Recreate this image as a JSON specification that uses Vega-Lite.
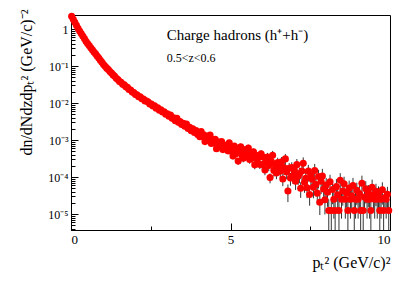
{
  "$schema": "https://vega.github.io/schema/vega-lite/v6.json",
  "width": 319,
  "height": 215,
  "autosize": "none",
  "padding": {"left": 71, "top": 15, "right": 9, "bottom": 52},
  "background": "white",
  "config": {
    "view": {"stroke": "black", "strokeWidth": 1},
    "axis": {
      "grid": false,
      "domainColor": "black",
      "tickColor": "black",
      "labelColor": "black",
      "titleColor": "black",
      "labelFont": "Liberation Serif",
      "titleFont": "Liberation Serif",
      "titleFontWeight": "normal"
    }
  },
  "datasets": {
    "pts": [
      {"x":0.02,"y":2.22},{"x":0.07,"y":1.84},{"x":0.12,"y":1.52},{"x":0.17,"y":1.26},{"x":0.22,"y":1.04},
      {"x":0.27,"y":0.881},{"x":0.32,"y":0.753},{"x":0.37,"y":0.643},{"x":0.42,"y":0.552},{"x":0.47,"y":0.468},
      {"x":0.52,"y":0.405},{"x":0.57,"y":0.357},{"x":0.62,"y":0.312},{"x":0.67,"y":0.276},{"x":0.72,"y":0.240},
      {"x":0.77,"y":0.213},{"x":0.82,"y":0.185},{"x":0.87,"y":0.165},{"x":0.92,"y":0.143},{"x":0.97,"y":0.127},
      {"x":1.02,"y":0.110},{"x":1.07,"y":0.0985},{"x":1.12,"y":0.0876},{"x":1.17,"y":0.0800},{"x":1.22,"y":0.0710},
      {"x":1.27,"y":0.0650},{"x":1.32,"y":0.0575},{"x":1.37,"y":0.0530},{"x":1.42,"y":0.0465},{"x":1.47,"y":0.0430},
      {"x":1.52,"y":0.0380},{"x":1.57,"y":0.0362},{"x":1.62,"y":0.0322},{"x":1.67,"y":0.0309},{"x":1.72,"y":0.0273},
      {"x":1.77,"y":0.0264},{"x":1.82,"y":0.0232},{"x":1.87,"y":0.0225},{"x":1.92,"y":0.0197},{"x":1.97,"y":0.0192},
      {"x":2.02,"y":0.0170},{"x":2.07,"y":0.0168},{"x":2.12,"y":0.0148},{"x":2.17,"y":0.0147},{"x":2.22,"y":0.0130},
      {"x":2.27,"y":0.0129},{"x":2.32,"y":0.0114},{"x":2.37,"y":0.0113},{"x":2.42,"y":0.0106},{"x":2.47,"y":0.00935},
      {"x":2.52,"y":0.00945},{"x":2.57,"y":0.00830},{"x":2.62,"y":0.00840},{"x":2.67,"y":0.00725},{"x":2.72,"y":0.00745},
      {"x":2.77,"y":0.00640},{"x":2.82,"y":0.00655},{"x":2.87,"y":0.00570},{"x":2.92,"y":0.00580},{"x":2.97,"y":0.00500},
      {"x":3.02,"y":0.00510},{"x":3.07,"y":0.00440},{"x":3.12,"y":0.00470},{"x":3.17,"y":0.00385},{"x":3.22,"y":0.00400},
      {"x":3.27,"y":0.00330},{"x":3.32,"y":0.00385},{"x":3.37,"y":0.00300},{"x":3.42,"y":0.00315},{"x":3.47,"y":0.00262},
      {"x":3.52,"y":0.00285},{"x":3.57,"y":0.00236},{"x":3.62,"y":0.00270},{"x":3.67,"y":0.00205},{"x":3.72,"y":0.00221},
      {"x":3.77,"y":0.00178},{"x":3.82,"y":0.00200},{"x":3.87,"y":0.00160},{"x":3.92,"y":0.00180},{"x":3.97,"y":0.00141},
      {"x":4.00,"y":1.56e-3,"lo":1.41e-3,"hi":1.72e-3},
      {"x":4.04,"y":1.22e-3,"lo":1.10e-3,"hi":1.34e-3},
      {"x":4.08,"y":1.69e-3,"lo":1.52e-3,"hi":1.86e-3},
      {"x":4.12,"y":1.25e-3,"lo":1.13e-3,"hi":1.38e-3},
      {"x":4.16,"y":1.39e-3,"lo":1.24e-3,"hi":1.54e-3},
      {"x":4.20,"y":9.06e-4,"lo":8.06e-4,"hi":1.006e-3},
      {"x":4.24,"y":1.16e-3,"lo":1.03e-3,"hi":1.29e-3},
      {"x":4.28,"y":1.29e-3,"lo":1.15e-3,"hi":1.43e-3},
      {"x":4.32,"y":9.57e-4,"lo":8.42e-4,"hi":1.07e-3},
      {"x":4.36,"y":1.37e-3,"lo":1.21e-3,"hi":1.53e-3},
      {"x":4.40,"y":8.02e-4,"lo":7.06e-4,"hi":8.98e-4},
      {"x":4.44,"y":9.93e-4,"lo":8.74e-4,"hi":1.11e-3},
      {"x":4.48,"y":8.37e-4,"lo":7.28e-4,"hi":9.46e-4},
      {"x":4.52,"y":1.04e-3,"lo":9.05e-4,"hi":1.18e-3},
      {"x":4.56,"y":5.82e-4,"lo":5.06e-4,"hi":6.58e-4},
      {"x":4.60,"y":8.89e-4,"lo":7.73e-4,"hi":1.0e-3},
      {"x":4.64,"y":7.57e-4,"lo":6.51e-4,"hi":8.63e-4},
      {"x":4.68,"y":6.55e-4,"lo":5.63e-4,"hi":7.47e-4},
      {"x":4.72,"y":9.16e-4,"lo":7.88e-4,"hi":1.04e-3},
      {"x":4.76,"y":5.5e-4,"lo":4.73e-4,"hi":6.27e-4},
      {"x":4.80,"y":7.28e-4,"lo":6.19e-4,"hi":8.37e-4},
      {"x":4.84,"y":6.3e-4,"lo":5.36e-4,"hi":7.25e-4},
      {"x":4.88,"y":7.19e-4,"lo":6.11e-4,"hi":8.27e-4},
      {"x":4.92,"y":5.09e-4,"lo":4.33e-4,"hi":5.85e-4},
      {"x":4.96,"y":8.39e-4,"lo":7.05e-4,"hi":9.73e-4},
      {"x":5.00,"y":5.04e-4,"lo":4.03e-4,"hi":6.05e-4},
      {"x":5.04,"y":5.79e-4,"lo":4.63e-4,"hi":6.95e-4},
      {"x":5.08,"y":3.72e-4,"lo":2.98e-4,"hi":4.46e-4},
      {"x":5.12,"y":6.85e-4,"lo":5.48e-4,"hi":8.22e-4},
      {"x":5.16,"y":4.18e-4,"lo":3.30e-4,"hi":5.06e-4},
      {"x":5.20,"y":5.82e-4,"lo":4.60e-4,"hi":7.04e-4},
      {"x":5.24,"y":2.69e-4,"lo":2.13e-4,"hi":3.25e-4},
      {"x":5.28,"y":5.09e-4,"lo":4.02e-4,"hi":6.16e-4},
      {"x":5.32,"y":6.53e-4,"lo":5.09e-4,"hi":7.97e-4},
      {"x":5.36,"y":3.87e-4,"lo":3.02e-4,"hi":4.72e-4},
      {"x":5.40,"y":3.2e-4,"lo":2.50e-4,"hi":3.90e-4},
      {"x":5.44,"y":5.41e-4,"lo":4.22e-4,"hi":6.60e-4},
      {"x":5.48,"y":4.23e-4,"lo":3.26e-4,"hi":5.20e-4},
      {"x":5.52,"y":3.79e-4,"lo":2.92e-4,"hi":4.66e-4},
      {"x":5.56,"y":6.07e-4,"lo":4.67e-4,"hi":7.47e-4},
      {"x":5.60,"y":2.96e-4,"lo":2.28e-4,"hi":3.64e-4},
      {"x":5.64,"y":4.1e-4,"lo":3.12e-4,"hi":5.08e-4},
      {"x":5.68,"y":3.27e-4,"lo":2.49e-4,"hi":4.05e-4},
      {"x":5.72,"y":4.77e-4,"lo":3.63e-4,"hi":5.91e-4},
      {"x":5.76,"y":2.13e-4,"lo":1.62e-4,"hi":2.64e-4},
      {"x":5.80,"y":3.88e-4,"lo":2.91e-4,"hi":4.85e-4},
      {"x":5.84,"y":3.09e-4,"lo":2.32e-4,"hi":3.86e-4},
      {"x":5.88,"y":3.43e-4,"lo":2.57e-4,"hi":4.29e-4},
      {"x":5.92,"y":2.19e-4,"lo":1.64e-4,"hi":2.74e-4},
      {"x":5.96,"y":4.22e-4,"lo":3.12e-4,"hi":5.32e-4},
      {"x":6.00,"y":2.19e-4,"lo":1.58e-4,"hi":2.80e-4},
      {"x":6.04,"y":3.44e-4,"lo":2.48e-4,"hi":4.40e-4},
      {"x":6.08,"y":1.55e-4,"lo":1.12e-4,"hi":1.98e-4},
      {"x":6.12,"y":2.61e-4,"lo":1.88e-4,"hi":3.34e-4},
      {"x":6.16,"y":3.45e-4,"lo":2.42e-4,"hi":4.49e-4},
      {"x":6.20,"y":2.06e-4,"lo":1.44e-4,"hi":2.68e-4},
      {"x":6.24,"y":9.64e-5,"lo":6.75e-5,"hi":1.25e-4},
      {"x":6.28,"y":2.62e-4,"lo":1.83e-4,"hi":3.41e-4},
      {"x":6.32,"y":3.85e-4,"lo":2.62e-4,"hi":5.08e-4},
      {"x":6.36,"y":1.51e-4,"lo":1.03e-4,"hi":1.99e-4},
      {"x":6.40,"y":2.14e-4,"lo":1.46e-4,"hi":2.82e-4},
      {"x":6.44,"y":1.28e-4,"lo":8.7e-5,"hi":1.69e-4},
      {"x":6.48,"y":2.47e-4,"lo":1.63e-4,"hi":3.31e-4},
      {"x":6.52,"y":1.75e-4,"lo":1.16e-4,"hi":2.35e-4},
      {"x":6.56,"y":1.43e-4,"lo":9.4e-5,"hi":1.92e-4},
      {"x":6.60,"y":2.58e-4,"lo":1.70e-4,"hi":3.46e-4},
      {"x":6.64,"y":8.85e-5,"lo":5.66e-5,"hi":1.2e-4},
      {"x":6.68,"y":1.77e-4,"lo":1.13e-4,"hi":2.41e-4},
      {"x":6.72,"y":3.09e-4,"lo":1.98e-4,"hi":4.2e-4},
      {"x":6.76,"y":1.36e-4,"lo":8.7e-5,"hi":1.85e-4},
      {"x":6.80,"y":4.2e-5,"lo":2.1e-5,"hi":6.3e-5},
      {"x":6.84,"y":1.73e-4,"lo":1.07e-4,"hi":2.39e-4},
      {"x":6.88,"y":9.35e-5,"lo":5.8e-5,"hi":1.29e-4},
      {"x":6.92,"y":1.81e-4,"lo":1.12e-4,"hi":2.50e-4},
      {"x":6.96,"y":1.08e-4,"lo":6.5e-5,"hi":1.51e-4},
      {"x":7.00,"y":1.51e-4,"lo":8.8e-5,"hi":2.14e-4},
      {"x":7.04,"y":7.71e-5,"lo":4.47e-5,"hi":1.09e-4},
      {"x":7.08,"y":2.16e-4,"lo":1.25e-4,"hi":3.07e-4},
      {"x":7.12,"y":1.05e-4,"lo":6.1e-5,"hi":1.49e-4},
      {"x":7.16,"y":1.23e-4,"lo":6.8e-5,"hi":1.78e-4},
      {"x":7.20,"y":4.97e-5,"lo":2.73e-5,"hi":7.21e-5},
      {"x":7.24,"y":1.46e-4,"lo":8.0e-5,"hi":2.12e-4},
      {"x":7.28,"y":2.34e-4,"lo":1.29e-4,"hi":3.39e-4},
      {"x":7.32,"y":7.21e-5,"lo":3.75e-5,"hi":1.07e-4},
      {"x":7.36,"y":9.23e-5,"lo":4.8e-5,"hi":1.37e-4},
      {"x":7.40,"y":5.15e-5,"lo":2.68e-5,"hi":7.62e-5},
      {"x":7.44,"y":1.44e-4,"lo":7.5e-5,"hi":2.13e-4},
      {"x":7.48,"y":3.36e-5,"lo":1.68e-5,"hi":5.04e-5},
      {"x":7.52,"y":1.08e-4,"lo":5.4e-5,"hi":1.62e-4},
      {"x":7.56,"y":8.69e-5,"lo":4.35e-5,"hi":1.3e-4},
      {"x":7.60,"y":5.32e-5,"lo":2.66e-5,"hi":7.98e-5},
      {"x":7.64,"y":1.49e-4,"lo":7.2e-5,"hi":2.26e-4},
      {"x":7.68,"y":6.3e-5,"lo":3.02e-5,"hi":9.58e-5},
      {"x":7.72,"y":3.67e-5,"lo":1.76e-5,"hi":5.58e-5},
      {"x":7.76,"y":1.03e-4,"lo":4.9e-5,"hi":1.57e-4},
      {"x":7.80,"y":2.08e-5,"lo":9.4e-6,"hi":3.22e-5},
      {"x":7.84,"y":7.66e-5,"lo":3.45e-5,"hi":1.19e-4},
      {"x":7.88,"y":1.07e-4,"lo":4.8e-5,"hi":1.66e-4},
      {"x":7.92,"y":4.75e-5,"lo":2.14e-5,"hi":7.36e-5},
      {"x":7.96,"y":2.42e-5,"lo":9.7e-6,"hi":3.87e-5},
      {"x":8.00,"y":6.1e-5,"lo":2.75e-5,"hi":9.46e-5},
      {"x":8.04,"y":3.9e-5,"lo":1.56e-5,"hi":6.24e-5},
      {"x":8.08,"y":1.25e-5,"lo":1e-7,"hi":2.5e-5},
      {"x":8.12,"y":7.4e-5,"lo":3.33e-5,"hi":1.15e-4},
      {"x":8.16,"y":1.25e-5,"lo":1e-7,"hi":2.5e-5},
      {"x":8.20,"y":4.6e-5,"lo":1.84e-5,"hi":7.36e-5},
      {"x":8.24,"y":2.5e-5,"lo":7.5e-6,"hi":4.25e-5},
      {"x":8.28,"y":1.25e-5,"lo":1e-7,"hi":2.5e-5},
      {"x":8.32,"y":5.5e-5,"lo":2.2e-5,"hi":8.8e-5},
      {"x":8.36,"y":3.3e-5,"lo":1.32e-5,"hi":5.28e-5},
      {"x":8.40,"y":1.25e-5,"lo":1e-7,"hi":2.5e-5},
      {"x":8.44,"y":8.2e-5,"lo":3.69e-5,"hi":1.27e-4},
      {"x":8.48,"y":2.5e-5,"lo":7.5e-6,"hi":4.25e-5},
      {"x":8.52,"y":4.2e-5,"lo":1.68e-5,"hi":6.72e-5},
      {"x":8.56,"y":6.6e-5,"lo":2.97e-5,"hi":1.02e-4},
      {"x":8.60,"y":2.5e-5,"lo":7.5e-6,"hi":4.25e-5},
      {"x":8.64,"y":3.7e-5,"lo":1.48e-5,"hi":5.92e-5},
      {"x":8.68,"y":1.25e-5,"lo":1e-7,"hi":2.5e-5},
      {"x":8.72,"y":5.0e-5,"lo":2.0e-5,"hi":8.0e-5},
      {"x":8.76,"y":2.5e-5,"lo":7.5e-6,"hi":4.25e-5},
      {"x":8.80,"y":3.1e-5,"lo":1.24e-5,"hi":4.96e-5},
      {"x":8.84,"y":5.9e-5,"lo":2.36e-5,"hi":9.44e-5},
      {"x":8.88,"y":1.25e-5,"lo":1e-7,"hi":2.5e-5},
      {"x":8.92,"y":2.5e-5,"lo":7.5e-6,"hi":4.25e-5},
      {"x":8.96,"y":4.4e-5,"lo":1.76e-5,"hi":7.04e-5},
      {"x":9.00,"y":2.5e-5,"lo":7.5e-6,"hi":4.25e-5},
      {"x":9.04,"y":3.6e-5,"lo":1.44e-5,"hi":5.76e-5},
      {"x":9.08,"y":1.25e-5,"lo":1e-7,"hi":2.5e-5},
      {"x":9.12,"y":6.8e-5,"lo":2.72e-5,"hi":1.09e-4},
      {"x":9.16,"y":1.25e-5,"lo":1e-7,"hi":2.5e-5},
      {"x":9.20,"y":2.9e-5,"lo":1.16e-5,"hi":4.64e-5},
      {"x":9.24,"y":4.8e-5,"lo":1.92e-5,"hi":7.68e-5},
      {"x":9.28,"y":2.5e-5,"lo":7.5e-6,"hi":4.25e-5},
      {"x":9.32,"y":3.8e-5,"lo":1.52e-5,"hi":6.08e-5},
      {"x":9.36,"y":2.5e-5,"lo":7.5e-6,"hi":4.25e-5},
      {"x":9.40,"y":1.25e-5,"lo":1e-7,"hi":2.5e-5},
      {"x":9.44,"y":5.3e-5,"lo":2.12e-5,"hi":8.48e-5},
      {"x":9.48,"y":3.2e-5,"lo":1.28e-5,"hi":5.12e-5},
      {"x":9.52,"y":2.5e-5,"lo":7.5e-6,"hi":4.25e-5},
      {"x":9.56,"y":4.1e-5,"lo":1.64e-5,"hi":6.56e-5},
      {"x":9.60,"y":2.5e-5,"lo":7.5e-6,"hi":4.25e-5},
      {"x":9.64,"y":3.5e-5,"lo":1.4e-5,"hi":5.6e-5},
      {"x":9.68,"y":1.25e-5,"lo":1e-7,"hi":2.5e-5},
      {"x":9.72,"y":2.5e-5,"lo":7.5e-6,"hi":4.25e-5},
      {"x":9.76,"y":4.5e-5,"lo":1.8e-5,"hi":7.2e-5},
      {"x":9.80,"y":1.25e-5,"lo":1e-7,"hi":2.5e-5},
      {"x":9.84,"y":2.8e-5,"lo":1.12e-5,"hi":4.48e-5},
      {"x":9.88,"y":2.5e-5,"lo":7.5e-6,"hi":4.25e-5},
      {"x":9.92,"y":3.4e-5,"lo":1.36e-5,"hi":5.44e-5},
      {"x":9.96,"y":1.25e-5,"lo":1e-7,"hi":2.5e-5}
    ]
  },
  "layer": [
    {
      "data": {"name": "pts"},
      "transform": [{"filter": "datum.lo != null"}],
      "mark": {"type": "rule", "color": "#111111", "strokeWidth": 1, "opacity": 0.85, "clip": true},
      "encoding": {
        "x": {"field": "x", "type": "quantitative"},
        "y": {"field": "lo", "type": "quantitative"},
        "y2": {"field": "hi"}
      }
    },
    {
      "data": {"name": "pts"},
      "mark": {"type": "point", "filled": true, "shape": "circle", "color": "#ff0000", "opacity": 1, "size": 50},
      "encoding": {
        "x": {
          "field": "x", "type": "quantitative",
          "scale": {"domain": [0, 10], "nice": false, "zero": false},
          "axis": {
            "values": [0, 2.5, 5, 7.5, 10],
            "labelExpr": "datum.value % 5 == 0 ? datum.label : ''",
            "labelFont": "Liberation Serif",
            "labelFontSize": 13,
            "labelPadding": 10,
            "tickSize": {"condition": {"test": "datum.value % 5 == 0", "value": -7}, "value": -4},
            "title": "pₜ²  (GeV/c)²",
            "titleFont": "Liberation Serif",
            "titleFontSize": 16,
            "titleAlign": "right",
            "titleBaseline": "alphabetic",
            "titleAnchor": null,
            "titleX": 319,
            "titleY": 37
          }
        },
        "y": {
          "field": "y", "type": "quantitative",
          "scale": {"type": "log", "domain": [3.7e-6, 2.39], "nice": false},
          "axis": {
            "values": [4e-6,5e-6,6e-6,7e-6,8e-6,9e-6,1e-5,2e-5,3e-5,4e-5,5e-5,6e-5,7e-5,8e-5,9e-5,1e-4,2e-4,3e-4,4e-4,5e-4,6e-4,7e-4,8e-4,9e-4,1e-3,2e-3,3e-3,4e-3,5e-3,6e-3,7e-3,8e-3,9e-3,0.01,0.02,0.03,0.04,0.05,0.06,0.07,0.08,0.09,0.1,0.2,0.3,0.4,0.5,0.6,0.7,0.8,0.9,1,2],
            "labelExpr": "abs(log(datum.value)/LN10 - round(log(datum.value)/LN10)) < 0.001 ? ['10⁻⁵','10⁻⁴','10⁻³','10⁻²','10⁻¹','1'][round(log(datum.value)/LN10)+5] : ''",
            "labelFont": "Liberation Serif",
            "labelFontSize": 12,
            "labelPadding": 10,
            "tickSize": {"condition": {"test": "abs(log(datum.value)/LN10 - round(log(datum.value)/LN10)) < 0.001", "value": -7}, "value": -4},
            "title": "dn/dNdzdpₜ²  (GeV/c)⁻²",
            "titleFont": "Liberation Serif",
            "titleFontSize": 16,
            "titleAngle": -90,
            "titleAlign": "right",
            "titleBaseline": "alphabetic",
            "titleAnchor": null,
            "titleX": -40,
            "titleY": -6
          }
        }
      }
    },
    {
      "data": {"values": [{}]},
      "mark": {"type": "text", "text": "Charge hadrons (h⁺+h⁻)", "font": "Liberation Serif", "fontSize": 15, "align": "left", "baseline": "alphabetic", "color": "black"},
      "encoding": {"x": {"datum": 3.0}, "y": {"datum": 0.5}}
    },
    {
      "data": {"values": [{}]},
      "mark": {"type": "text", "text": "0.5<z<0.6", "font": "Liberation Serif", "fontSize": 12, "align": "left", "baseline": "alphabetic", "color": "black"},
      "encoding": {"x": {"datum": 3.0}, "y": {"datum": 0.13}}
    }
  ]
}
